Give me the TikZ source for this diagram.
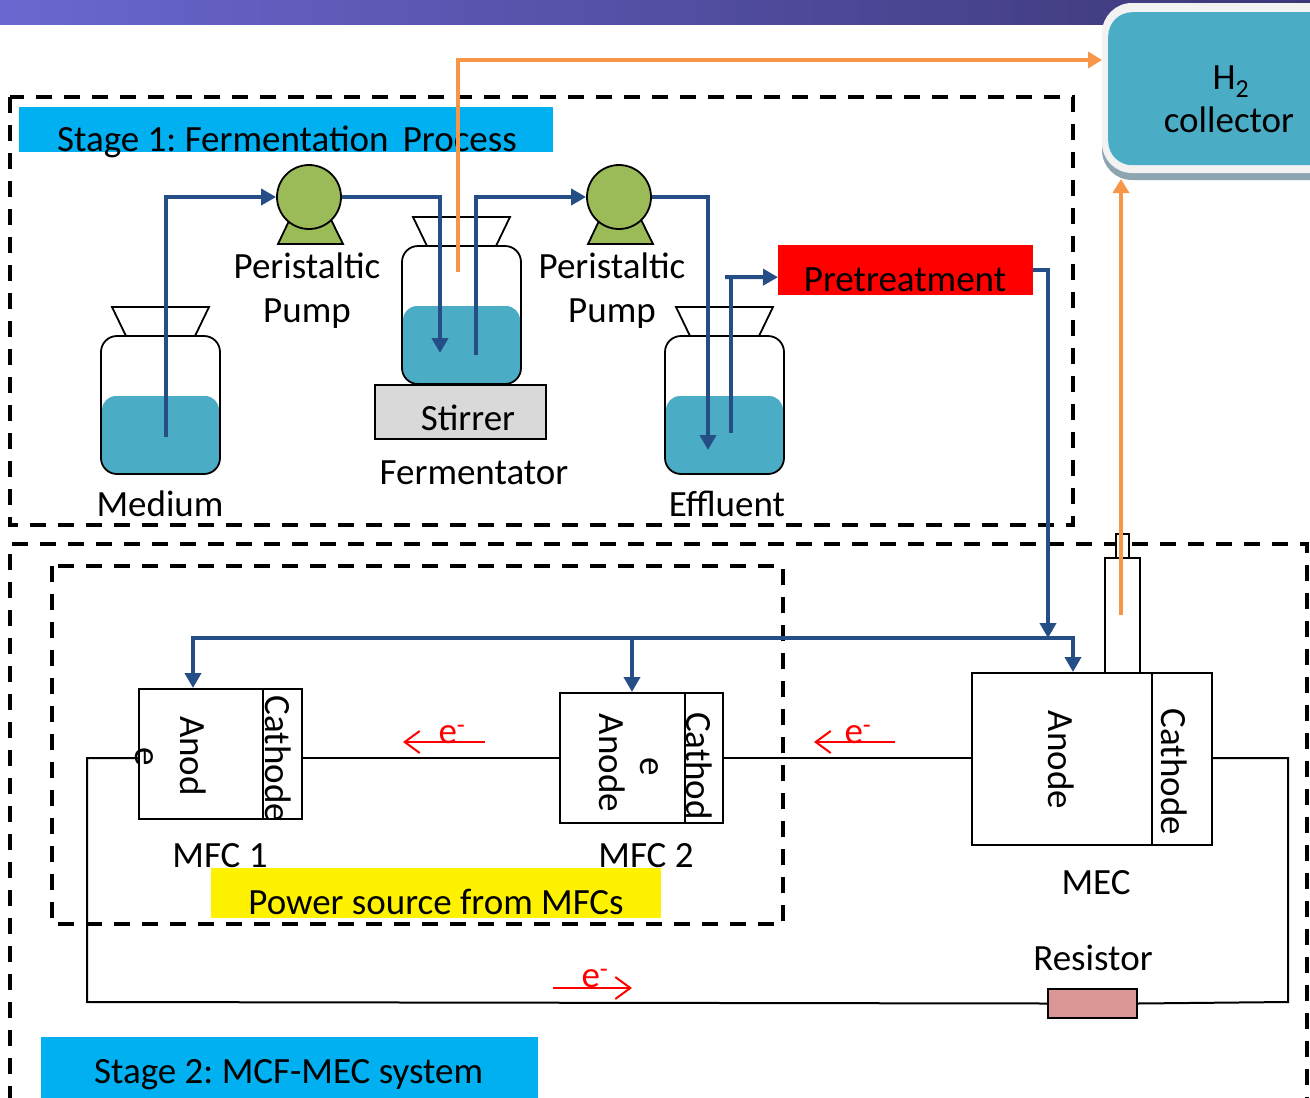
\documentclass[tikz,border=0pt]{standalone}
\usepackage{fontspec}
\setmainfont{Carlito}
\frenchspacing
\usetikzlibrary{arrows.meta,calc}

\definecolor{liquid}{HTML}{4BACC6}
\definecolor{pipeblue}{RGB}{37,78,135}
\definecolor{gasorange}{HTML}{F79646}
\definecolor{pumpgreen}{HTML}{9BBB59}
\definecolor{labelcyan}{HTML}{00B0F0}
\definecolor{stirgrey}{HTML}{D9D9D9}
\definecolor{resred}{HTML}{D99694}
\definecolor{barleft}{RGB}{106,103,208}
\definecolor{barright}{RGB}{60,55,118}
\definecolor{h2border}{HTML}{F2F2F2}
\definecolor{h2shadow}{RGB}{140,165,176}

\tikzset{
  vessel/.style={draw=black, line width=1.8pt},
  bigtext/.style={font=\fontsize{37}{44}\selectfont, inner sep=0pt},
  vtext/.style={bigtext, rotate=-90},
  cell/.style={draw=black, line width=2pt, fill=white, anchor=north west, inner sep=0pt},
  banner/.style={anchor=north west, inner sep=0pt},
  pipe/.style={draw=pipeblue, line width=4pt},
  pipetip/.style={-{Triangle[length=15pt,width=16pt]}},
  gas/.style={draw=gasorange, line width=3.5pt, -{Triangle[length=14pt,width=16pt]}},
  wire/.style={draw=black, line width=2pt},
  frame/.style={draw=black, line width=3.5pt, dash pattern=on 16pt off 12pt},
  pumpbody/.style={circle, draw=black, line width=1.8pt, fill=pumpgreen, minimum size=64pt, inner sep=0pt},
  pumpfoot/.style={draw=black, line width=1.8pt, fill=pumpgreen},
  eflow/.style={draw=red, line width=2pt, -{Straight Barb[length=15pt,width=22pt]}},
  etext/.style={bigtext, text=red, anchor=base},
}

% bottle: name, left x, top y of the body
\newcommand{\drawbottle}[3]{%
  \begin{scope}[shift={(#2,#3)}]
    \draw[vessel, fill=white] (11,-29) -- (108,-29) -- (94,0) -- (25,0) -- cycle;
    \fill[white, rounded corners=16pt] (0,0) rectangle (119,138);
    \fill[liquid, rounded corners=14pt] (1,60) rectangle (118,137);
    \draw[vessel, rounded corners=16pt] (0,0) rectangle (119,138);
    \node[anchor=north west, inner sep=0pt, minimum width=119pt, minimum height=138pt] (#1) at (0,0) {};
  \end{scope}}

\begin{document}
\begin{tikzpicture}[x=1pt,y=-1pt]
\useasboundingbox (0,0) rectangle (1310,1098);
\clip (0,0) rectangle (1310,1098);
\fill[white] (0,0) rectangle (1310,1098);

% title bar
\shade[left color=barleft, right color=barright] (0,0) rectangle (1310,24);

% hydrogen collector
\fill[h2shadow, rounded corners=30pt] (1102,10) rectangle (1390,180);
\fill[h2border, rounded corners=30pt] (1102,3) rectangle (1390,173);
\node[banner, fill=liquid, rounded corners=24pt, minimum width=260pt, minimum height=153pt] (h2) at (1108,12) {};

% stage frames
\draw[frame] (10,97) rectangle (1073,525);
\draw[frame] (10,1130) -- (10,544) -- (1307,544) -- (1307,1130);
\draw[frame] (52,566) rectangle (783,924);

% banners
\node[banner, fill=labelcyan, minimum width=534pt, minimum height=45pt] (stage1) at (19,107) {};
\node[banner, fill=labelcyan, minimum width=497pt, minimum height=70pt] (stage2) at (41,1037) {};
\node[banner, fill=red, minimum width=255pt, minimum height=50pt] (pretreat) at (778,245) {};
\node[banner, fill=yellow, minimum width=450pt, minimum height=50pt] (power) at (211,868) {};

% vessels
\drawbottle{medium}{101}{336}
\drawbottle{ferm}{402}{246}
\drawbottle{effl}{665}{336}
\node[cell, fill=stirgrey, minimum width=171pt, minimum height=54pt] (stirrer) at (374,384) {};

% pumps
\draw[pumpfoot] (278,244) -- (343,244) -- (310,177) -- cycle;
\node[pumpbody] (pump1) at (309,197) {};
\draw[pumpfoot] (588,244) -- (653,244) -- (620,177) -- cycle;
\node[pumpbody] (pump2) at (619,197) {};

% cells
\node[cell, minimum width=124pt, minimum height=130pt] (mfc1a) at (138,688) {};
\node[cell, minimum width=39pt, minimum height=130pt] (mfc1c) at (262,688) {};
\node[cell, minimum width=125pt, minimum height=130pt] (mfc2a) at (559,692) {};
\node[cell, minimum width=38pt, minimum height=130pt] (mfc2c) at (684,692) {};
\node[cell, minimum width=180pt, minimum height=172pt] (meca) at (971,672) {};
\node[cell, minimum width=60pt, minimum height=172pt] (mecc) at (1151,672) {};
\node[cell, minimum width=35pt, minimum height=115pt] (tube) at (1104,557) {};
\node[cell, minimum width=13pt, minimum height=24pt] (cap) at (1115,533) {};
\node[cell, fill=resred, minimum width=89pt, minimum height=29pt] (res) at (1047,988) {};

% external circuit
\coordinate (wy) at (0,758);
\coordinate (loopL) at (87,1002);
\coordinate (loopR) at (1288,1002);
\draw[wire] (mfc1c.east |- wy) -- (mfc2a.west |- wy);
\draw[wire] (mfc2c.east |- wy) -- (meca.west |- wy);
\draw[wire] (mfc1a.west |- wy) -| (loopL) -- (res.west);
\draw[wire] (res.east) -- (loopR) |- (mecc.east |- wy);

% liquid lines
\coordinate (med-tip) at (166,437);
\coordinate (ferm-in) at (440,353);
\coordinate (ferm-out) at (476,355);
\coordinate (eff-in) at (708,450);
\coordinate (eff-out) at (731,433);
\coordinate (eff-stub) at (725,277);
\coordinate (pre-in) at ($(pretreat.west)+(0,7)$);
\coordinate (feed-join) at (1048,638);
\coordinate (feed-l) at (193,638);
\coordinate (feed-m) at (632,638);
\coordinate (feed-r) at (1073,638);

\draw[pipe, pipetip] (med-tip) |- (pump1);
\draw[pipe, pipetip] (pump1) -| (ferm-in);
\draw[pipe, pipetip] (ferm-out) |- (pump2);
\draw[pipe, pipetip] (pump2) -| (eff-in);
\draw[pipe] (eff-out) -- (eff-out |- pre-in);
\draw[pipe, pipetip] (eff-stub) -- (pre-in);
\draw[pipe, pipetip] (pretreat.east) -| (feed-join);
\draw[pipe, {Triangle[length=15pt,width=16pt]}-{Triangle[length=15pt,width=16pt]}]
  (feed-l |- mfc1a.north) -- (feed-l) -- (feed-r) -- (feed-r |- meca.north);
\draw[pipe, pipetip] (feed-m) -- (feed-m |- mfc2a.north);

% electron flow
\draw[eflow] (485,742) -- (403,742);
\draw[eflow] (895,742) -- (814,742);
\draw[eflow] (553,988) -- (632,988);
\node[etext] (e1) at (452,743) {e\textsuperscript{-}};
\node[etext] (e2) at (858,743) {e\textsuperscript{-}};
\node[etext] (e3) at (595,987) {e\textsuperscript{-}};

% labels
\node[bigtext, anchor=base west] (s1text) at (57,151) {Stage 1: Fermentation\hspace{6pt} Process};
\node[bigtext, anchor=base west] (s2text) at (94,1083) {Stage 2: MCF-MEC system};
\node[bigtext, anchor=base] (h2a) at (1231,89) {H\textsubscript{2}};
\node[bigtext, anchor=base] (h2b) at (1229,132) {collector};
\node[bigtext, anchor=base] (p1a) at (307,278) {Peristaltic};
\node[bigtext, anchor=base] (p1b) at (307,322) {Pump};
\node[bigtext, anchor=base] (p2a) at (612,278) {Peristaltic};
\node[bigtext, anchor=base] (p2b) at (612,322) {Pump};
\node[bigtext, anchor=base] (medtext) at (160,516) {Medium};
\node[bigtext, anchor=base] (stirtext) at (468,430) {Stirrer};
\node[bigtext, anchor=base] (fermtext) at (474,484) {Fermentator};
\node[bigtext, anchor=base] (efftext) at (727,516) {Effluent};
\node[bigtext, anchor=base] (pretext) at (905,291) {Pretreatment};
\node[bigtext, anchor=base] (mfc1text) at (220,867) {MFC 1};
\node[bigtext, anchor=base] (mfc2text) at (646,867) {MFC 2};
\node[bigtext, anchor=base] (mectext) at (1096,894) {MEC};
\node[bigtext, anchor=base] (powtext) at (436,914) {Power source from MFCs};
\node[bigtext, anchor=base] (restext) at (1093,970) {Resistor};

% electrode labels
\node[vtext] (l1) at (193,756) {Anod};
\node[vtext] (l2) at (144,757) {e};
\node[vtext] (l3) at (278,759) {Cathode};
\node[vtext] (l4) at (612,763) {Anode};
\node[vtext] (l5) at (649,767) {e};
\node[vtext] (l6) at (699,766) {Cathod};
\node[vtext] (l7) at (1061,760) {Anode};
\node[vtext] (l8) at (1174,772) {Cathode};

% hydrogen lines
\coordinate (ferm-gas) at (458,272);
\coordinate (h2-in) at (1102,60);
\coordinate (mec-gas) at (1121,615);
\coordinate (h2-bot) at (1121,179);
\draw[gas] (ferm-gas) |- (h2-in);
\draw[gas] (mec-gas) -- (h2-bot);
\end{tikzpicture}
\end{document}
